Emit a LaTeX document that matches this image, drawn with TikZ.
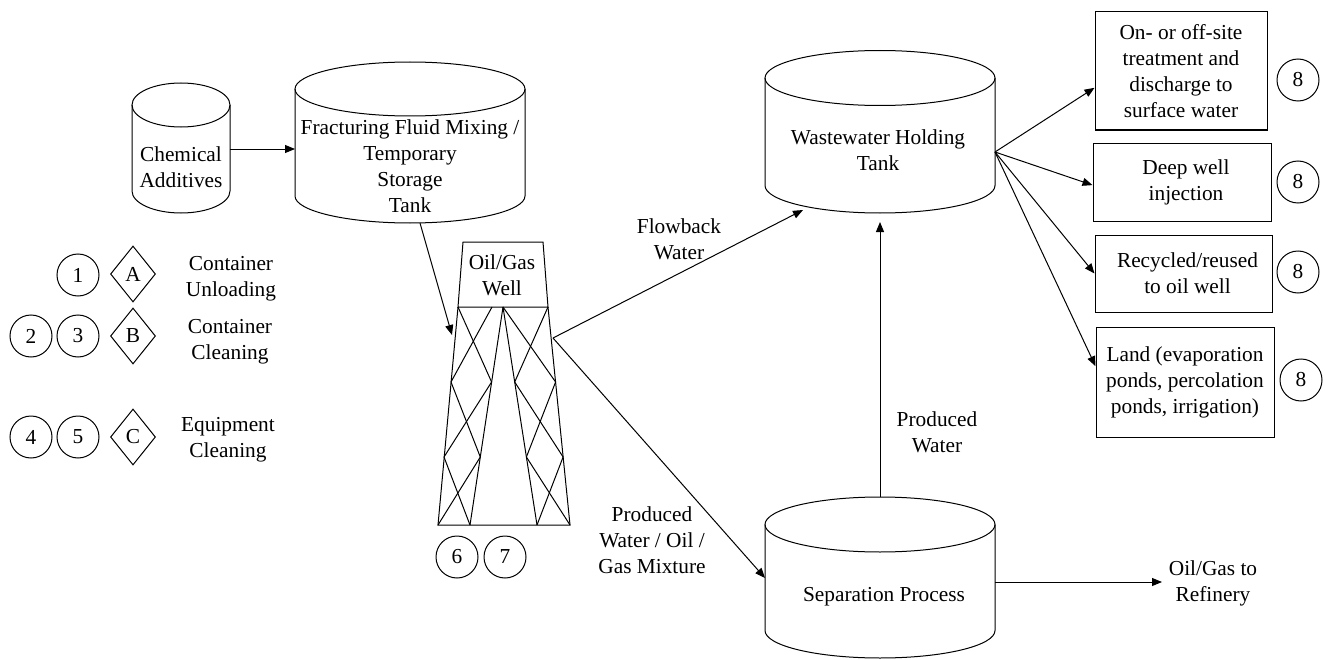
\documentclass[tikz,border=0pt]{standalone}
\usepackage{fontspec}
\setmainfont{Liberation Serif}
\newfontfamily\labelfont{Liberation Serif}
\usetikzlibrary{arrows.meta,shapes.geometric}

\begin{document}
\begin{tikzpicture}[x=0.75pt,y=0.75pt,yscale=-1,xscale=1,
  every node/.style={font=\labelfont\fontsize{16}{19.5}\selectfont},
  txt/.style={align=center,inner sep=0.75pt},
  flow/.style={line width=0.75pt,-{Triangle[length=7.5pt,width=6pt]}},
  can/.style={line width=0.75pt},
  numtag/.style={circle,draw,line width=0.75pt,minimum size=31.5pt,inner sep=0pt},
  lettag/.style={diamond,draw,line width=0.75pt,minimum width=33.75pt,minimum height=42pt,inner sep=0pt},
  dest/.style={draw,line width=0.75pt,align=center,inner sep=1pt}]
\useasboundingbox (0,0) rectangle (1325,660);

%Shape: Can (chemical additives)
\draw[can] (132,105) -- (132,191) arc[start angle=180,end angle=0,x radius=49,y radius=22] -- (230,105) ;
\draw[can] (181,105) ellipse [x radius=49,y radius=22] ;
%Shape: Can (mixing tank)
\draw[can] (295,89) -- (295,196) arc[start angle=180,end angle=0,x radius=115,y radius=27] -- (525,89) ;
\draw[can] (410,89) ellipse [x radius=115,y radius=27] ;
%Shape: Can (holding tank)
\draw[can] (765,78) -- (765,185.5) arc[start angle=180,end angle=0,x radius=115,y radius=27.5] -- (995,78) ;
\draw[can] (880,78) ellipse [x radius=115,y radius=27.5] ;
%Shape: Can (separation)
\draw[can] (765,524.5) -- (765,630.5) arc[start angle=180,end angle=0,x radius=115,y radius=27.5] -- (995,524.5) ;
\draw[can] (880,524.5) ellipse [x radius=115,y radius=27.5] ;

%Shape: Trapezoid (well head)
\draw[can] (463,242) -- (543,242) -- (548,307) -- (458,307) -- cycle ;
%Straight Lines (derrick legs)
\draw[can] (458,307) -- (438,525) -- (570,525) -- (548,307) ;
\draw[can] (503,307) -- (470,525) ;
\draw[can] (503,307) -- (537,525) ;
%Straight Lines (left bracing)
\draw[can] (458,307) -- (491.6,382) ;
\draw[can] (492,307) -- (451,382) ;
\draw[can] (451,382) -- (480.3,457) ;
\draw[can] (491.6,382) -- (444,457) ;
\draw[can] (444,457) -- (470,525) ;
\draw[can] (480.3,457) -- (438,525) ;
%Straight Lines (right bracing)
\draw[can] (548,307) -- (514.7,382) ;
\draw[can] (503,307) -- (555.6,382) ;
\draw[can] (555.6,382) -- (526.4,457) ;
\draw[can] (514.7,382) -- (563.1,457) ;
\draw[can] (563.1,457) -- (537,525) ;
\draw[can] (526.4,457) -- (570,525) ;

% Text Node
\node[txt] (chem) at (181,167) {Chemical\\Additives};
% Text Node
\node[txt] (mix) at (410,166) {Fracturing Fluid Mixing /\\Temporary\\Storage\\Tank};
% Text Node
\node[txt] (well) at (502,275) {Oil/Gas\\Well};
% Text Node
\node[txt] (hold) at (878,150) {Wastewater Holding\\Tank};
% Text Node
\node[txt] (sep) at (884,597) {Separation Process};
% Text Node
\node[txt] (refinery) at (1213,583) {Oil/Gas to\\Refinery};

% Disposal boxes
\node[dest,minimum width=129pt,minimum height=88.5pt] (treat) at (1181,71) {On- or off-site\\treatment and\\discharge to\\surface water};
\node[dest,minimum width=133.5pt,minimum height=58.5pt] (inject) at (1182,182) {\hspace{6pt}Deep well\\\hspace{6pt}injection};
\node[dest,minimum width=132.75pt,minimum height=57.75pt] (reuse) at (1183.5,273.5) {\hspace{6pt}Recycled/reused\\\hspace{6pt}to oil well};
\node[dest,minimum width=133.5pt,minimum height=82.5pt] (land) at (1185,382) {Land (evaporation\\ponds, percolation\\ponds, irrigation)};
\node[numtag] (e1) at (1298,80) {8};
\node[numtag] (e2) at (1298,182) {8};
\node[numtag] (e3) at (1298,272) {8};
\node[numtag] (e4) at (1301,380) {8};

% Legend
\node[numtag] (n1) at (78,275) {1};
\node[numtag] (n2) at (31,336) {2};
\node[numtag] (n3) at (78,336) {3};
\node[numtag] (n4) at (31,437) {4};
\node[numtag] (n5) at (78,437) {5};
\node[lettag] (la) at (133,274) {A};
\node[lettag] (lb) at (133,336) {B};
\node[lettag] (lc) at (133,437) {C};
\node[txt] (ta) at (231,279) {Container\\Unloading};
\node[txt] (tb) at (230,342) {Container\\Cleaning};
\node[txt] (tc) at (228,440) {Equipment\\Cleaning};
\node[numtag] (n6) at (457,557) {6};
\node[numtag] (n7) at (505,557) {7};

% Ports on the cans and the derrick
\coordinate (chemR) at (230,149) ;
\coordinate (mixL) at (295,149) ;
\coordinate (mixB) at (420,223) ;
\coordinate (wellL) at (452,335) ;
\coordinate (wellR) at (553,338) ;
\coordinate (holdB) at (803,210) ;
\coordinate (holdC) at (880,222) ;
\coordinate (holdR) at (995,152) ;
\coordinate (sepT) at (880,497) ;
\coordinate (sepL) at (765,578) ;
\coordinate (sepR) at (995,582) ;
\coordinate (refL) at (1162,582) ;

%Straight Lines
\draw[flow] (chemR) -- (mixL) ;
\draw[flow] (mixB) -- (wellL) ;
\draw[flow] (wellR) -- (holdB) ;
\draw[flow] (wellR) -- (sepL) ;
\draw[flow] (sepT) -- (holdC) ;
\draw[flow] (sepR) -- (refL) ;
\draw[flow] (holdR) -- (treat.191) ;
\draw[flow] (holdR) -- (inject.182) ;
\draw[flow] (holdR) -- (reuse.180) ;
\draw[flow] (holdR) -- (land.170) ;

% Text Node
\node[txt] (flowback) at (679,239) {Flowback\\Water};
% Text Node
\node[txt] (prodw) at (937,432) {Produced\\Water};
% Text Node
\node[txt] (mixture) at (652,540) {Produced\\Water / Oil /\\Gas Mixture};

\end{tikzpicture}
\end{document}
